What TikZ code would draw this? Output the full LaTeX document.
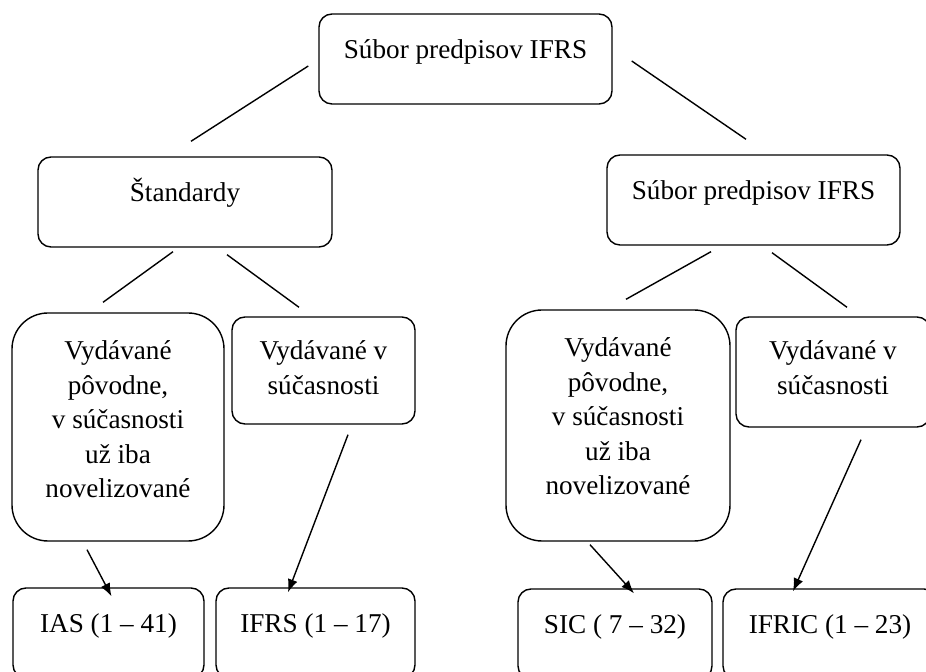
\documentclass[tikz,border=0pt]{standalone}
\usepackage{fontspec}
\setmainfont{Liberation Serif}
\usetikzlibrary{arrows.meta}

\tikzset{
  box/.style={draw, rounded corners=6.5pt, minimum height=45pt, inner sep=0pt},
  tallbox/.style={box, rounded corners=18pt},
  lbl/.style={anchor=north, inner sep=0pt, align=center, font=\fontsize{13.6}{17.2}\selectfont}
}

\begin{document}
\begin{tikzpicture}[x=0.5pt, y=-0.5pt, >={Latex[length=6.5pt,width=5pt]}, line width=0.7pt]
    \useasboundingbox (0,0) rectangle (926,672);
    \clip (0,0) rectangle (926,672);

    % Top level
    \node[box, minimum width=146.5pt, label={[lbl, yshift=-12.5pt, text height=10pt]north:Súbor predpisov IFRS}] (top) at (465.5,59) {};

    % Second level
    \node[box, minimum width=147pt, label={[lbl, yshift=-12.5pt, text height=10pt]north:Štandardy}] (std) at (185,202) {};
    \node[box, minimum width=146.5pt, label={[lbl, yshift=-12.5pt, text height=10pt]north:Súbor predpisov IFRS}] (intp) at (753.5,200) {};

    % Third level, left
    \node[tallbox, minimum width=106pt, minimum height=114pt, label={[lbl, yshift=-14pt]north:{Vydávané\\pôvodne,\\v súčasnosti\\už iba\\novelizované}}] (origL) at (118,427) {};
    \node[box, minimum width=91.5pt, minimum height=53.5pt, label={[lbl, yshift=-12pt]north:{Vydávané v\\súčasnosti}}] (curL) at (323.5,370.5) {};

    % Third level, right
    \node[tallbox, minimum width=112pt, minimum height=115.5pt, label={[lbl, yshift=-14pt]north:{Vydávané\\pôvodne,\\v súčasnosti\\už iba\\novelizované}}] (origR) at (618,425.5) {};
    \node[box, minimum width=97pt, minimum height=55pt, label={[lbl, yshift=-12pt]north:{Vydávané v\\súčasnosti}}] (curR) at (833,372) {};

    % Bottom level
    \node[box, minimum width=95.5pt, label={[lbl, yshift=-12.5pt, text height=10pt]north:IAS (1 – 41)}] (ias) at (108.5,633) {};
    \node[box, minimum width=99.5pt, label={[lbl, yshift=-12.5pt, text height=10pt]north:IFRS (1 – 17)}] (ifrs) at (315.5,633) {};
    \node[box, minimum width=97pt, label={[lbl, yshift=-12.5pt, text height=10pt]north:SIC ( 7 – 32)}] (sic) at (615,634) {};
    \node[box, minimum width=107pt, label={[lbl, yshift=-12.5pt, text height=10pt]north:IFRIC (1 – 23)}] (ifric) at (830,634) {};

    % Lines
    \draw ([shift={(-10,7)}]top.west) -- ([shift={(6,-15)}]std.north);
    \draw ([shift={(19,2)}]top.east) -- ([shift={(-7.5,-15)}]intp.north);
    \draw ([shift={(-12,4)}]std.south) -- ([shift={(-15,-10)}]origL.north);
    \draw ([shift={(42,7)}]std.south) -- ([shift={(-24.5,-9)}]curL.north);
    \draw ([shift={(-42.5,6)}]intp.south) -- ([shift={(8,-10)}]origR.north);
    \draw ([shift={(18.5,7)}]intp.south) -- ([shift={(14,-9)}]curR.north);

    % Arrows
    \draw[->] ([shift={(-31,8)}]origL.south) -- ([shift={(3,9)}]ias.north);
    \draw[->] ([shift={(24.5,10)}]curL.south) -- ([shift={(-27.5,5)}]ifrs.north);
    \draw[->] ([shift={(-28,3)}]origR.south) -- ([shift={(19,5)}]sic.north);
    \draw[->] ([shift={(28,12)}]curR.south) -- ([shift={(-37,3)}]ifric.north);
\end{tikzpicture}
\end{document}
